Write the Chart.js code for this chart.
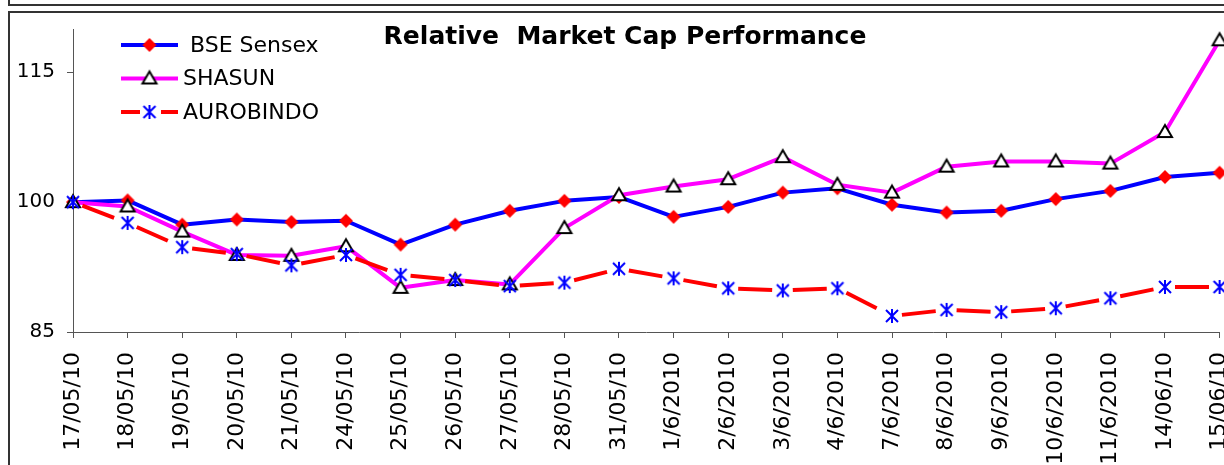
<!DOCTYPE html>
<html>
<head>
<meta charset="utf-8">
<title>Relative Market Cap Performance</title>
<script src="https://cdn.jsdelivr.net/npm/chart.js"></script>
<style>
  html, body { margin: 0; padding: 0; background: #fff; overflow: hidden; }
  body { width: 1224px; height: 465px; position: relative; }
  #topbox { position: absolute; left: 8px; top: -10px; width: 1300px; height: 12px; border: 2px solid #333; }
  #frame { position: absolute; left: 8px; top: 11px; width: 1300px; height: 600px; border: 2px solid #333; }
  #wrap { position: absolute; left: 0; top: 0; width: 1260px; height: 480px; }
</style>
</head>
<body>
<div id="topbox"></div>
<div id="frame"></div>
<div id="wrap"><canvas id="myChart"></canvas></div>
<script>
const chartTitle = 'Relative  Market Cap Performance';

const labels = ['17/05/10', '18/05/10', '19/05/10', '20/05/10', '21/05/10', '24/05/10', '25/05/10',
  '26/05/10', '27/05/10', '28/05/10', '31/05/10', '1/6/2010', '2/6/2010', '3/6/2010', '4/6/2010',
  '7/6/2010', '8/6/2010', '9/6/2010', '10/6/2010', '11/6/2010', '14/06/10', '15/06/10'];

const sensex = [100, 100.2, 97.4, 98.0, 97.7, 97.85, 95.1, 97.4, 99.0, 100.15, 100.6,
  98.3, 99.45, 101.1, 101.6, 99.7, 98.8, 99.0, 100.35, 101.3, 102.9, 103.4];
const shasun = [100, 99.5, 96.6, 93.9, 93.8, 94.9, 90.1, 91.0, 90.5, 97.0, 100.8,
  101.8, 102.65, 105.2, 102.0, 101.1, 104.1, 104.7, 104.7, 104.45, 108.1, 118.7];
const aurobindo = [100, 97.6, 94.8, 94.0, 92.7, 93.9, 91.6, 91.0, 90.3, 90.7, 92.3,
  91.2, 90.05, 89.8, 90.05, 86.85, 87.55, 87.3, 87.75, 88.9, 90.2, 90.2];

const yTicks = [85, 100, 115];

const axisColor = '#555';
Chart.defaults.font.family = '"DejaVu Sans", Verdana, sans-serif';
Chart.defaults.color = '#000';

// small canvases used as markers (chart points and legend)
function makeMarker(size, paint) {
  const c = document.createElement('canvas');
  c.width = size;
  c.height = size;
  const g = c.getContext('2d');
  g.translate(size / 2, size / 2);
  paint(g);
  return c;
}

const diamond = makeMarker(16, g => {
  g.fillStyle = '#ff0000';
  g.beginPath();
  g.moveTo(0, -7); g.lineTo(7, 0); g.lineTo(0, 7); g.lineTo(-7, 0);
  g.closePath();
  g.fill();
});

const triangle = makeMarker(20, g => {
  g.beginPath();
  g.moveTo(0, -7); g.lineTo(7, 5); g.lineTo(-7, 5);
  g.closePath();
  g.fillStyle = '#fff';
  g.fill();
  g.lineWidth = 2;
  g.strokeStyle = '#000';
  g.stroke();
});

const asterisk = makeMarker(18, g => {
  g.strokeStyle = '#0000ff';
  g.lineWidth = 2;
  g.beginPath();
  g.moveTo(0, -7); g.lineTo(0, 7);
  g.moveTo(-6, -6); g.lineTo(6, 6);
  g.moveTo(-6, 6); g.lineTo(6, -6);
  g.stroke();
});

// title and legend sit inside the plot, like the original
const overlay = {
  id: 'overlay',
  afterDraw(chart) {
    const ctx = chart.ctx;
    ctx.save();
    ctx.fillStyle = '#000';
    ctx.font = 'bold 25px "DejaVu Sans"';
    ctx.textAlign = 'center';
    ctx.textBaseline = 'alphabetic';
    ctx.fillText(chartTitle, 625, 44);

    ctx.font = '22px "DejaVu Sans"';
    ctx.textAlign = 'left';
    ctx.textBaseline = 'middle';
    chart.data.datasets.forEach((ds, i) => {
      const y = 45 + i * 33.5;
      ctx.strokeStyle = ds.borderColor;
      ctx.lineWidth = 4;
      ctx.setLineDash(ds.borderDash ? [19, 21] : []);
      ctx.beginPath();
      ctx.moveTo(121, y);
      ctx.lineTo(178, y);
      ctx.stroke();
      ctx.setLineDash([]);
      const m = ds.pointStyle;
      ctx.drawImage(m, 149.5 - m.width / 2, y - m.height / 2);
      ctx.fillText(ds.label, 183, y + 1);
    });
    ctx.restore();
  }
};

new Chart(document.getElementById('myChart'), {
  type: 'line',
  data: {
    labels: labels,
    datasets: [
      {
        label: ' BSE Sensex',
        data: sensex,
        borderColor: '#0000ff',
        borderWidth: 4,
        pointStyle: diamond,
        pointRadius: 7,
        order: 2,
        clip: false
      },
      {
        label: 'SHASUN',
        data: shasun,
        borderColor: '#ff00ff',
        borderWidth: 4,
        pointStyle: triangle,
        pointRadius: 7,
        order: 1,
        clip: false
      },
      {
        label: 'AUROBINDO',
        data: aurobindo,
        borderColor: '#ff0000',
        borderWidth: 4,
        borderDash: [34, 20],
        // restart the dash on every segment so the gaps sit round the markers
        segment: {
          borderDashOffset: c => (c.p0DataIndex % 2 ? 44 : 44.001)
        },
        pointStyle: asterisk,
        pointRadius: 7,
        order: 0,
        clip: false
      }
    ]
  },
  options: {
    responsive: true,
    maintainAspectRatio: false,
    animation: false,
    devicePixelRatio: 1,
    events: [],
    layout: { padding: { top: 29, left: 0, right: 0, bottom: 0 } },
    elements: { line: { tension: 0, borderJoinStyle: 'round' } },
    plugins: {
      legend: { display: false },
      tooltip: { enabled: false },
      title: { display: false }
    },
    scales: {
      x: {
        offset: false,
        grid: { drawOnChartArea: false, drawTicks: true, tickLength: 6, color: axisColor },
        border: { color: axisColor, width: 1 },
        ticks: { autoSkip: false, minRotation: 90, maxRotation: 90, padding: 14, font: { size: 22 } },
        afterFit: s => { s.height = 148; }
      },
      y: {
        min: 85,
        max: 120,
        afterBuildTicks: s => { s.ticks = yTicks.map(v => ({ value: v })); },
        grid: { drawOnChartArea: false, drawTicks: true, tickLength: 6, color: axisColor },
        border: { color: axisColor, width: 1 },
        ticks: { padding: 12, font: { size: 20 } },
        afterFit: s => { s.width = 73; }
      }
    }
  },
  plugins: [overlay]
});
</script>
</body>
</html>
